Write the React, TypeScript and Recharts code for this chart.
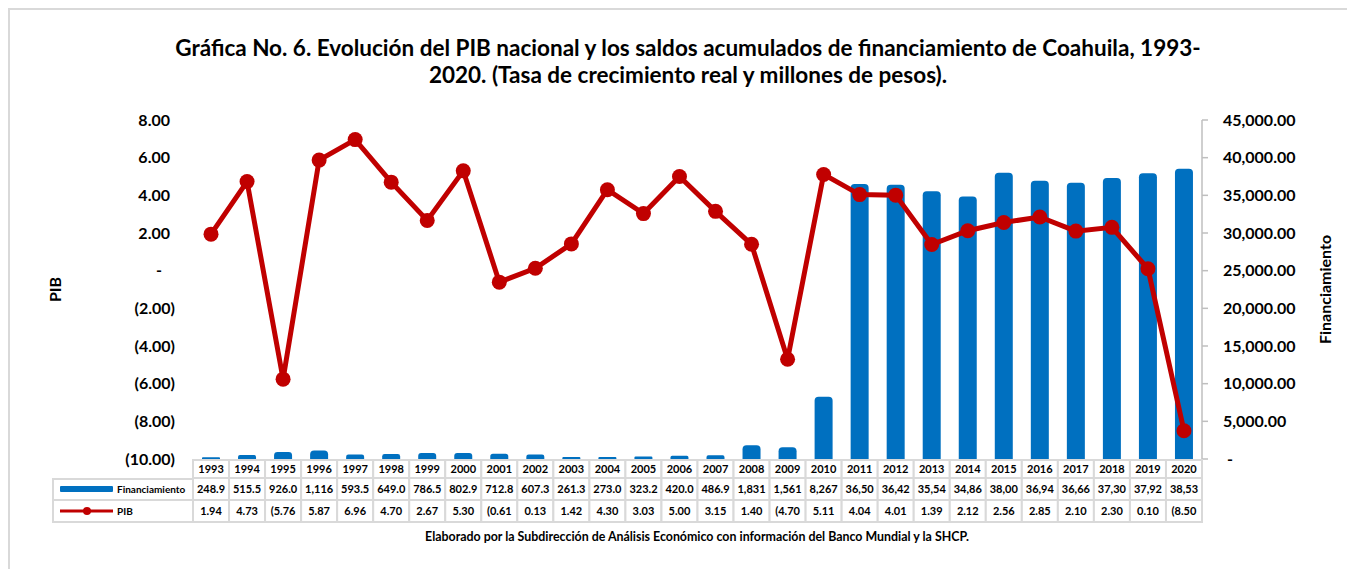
import React from 'react';
import { ComposedChart, Bar, Line, XAxis, YAxis, Legend } from 'recharts';

// ---------- data ----------
const years = [
  '1993', '1994', '1995', '1996', '1997', '1998', '1999', '2000', '2001', '2002',
  '2003', '2004', '2005', '2006', '2007', '2008', '2009', '2010', '2011', '2012',
  '2013', '2014', '2015', '2016', '2017', '2018', '2019', '2020',
];
const financiamiento = [
  248.9, 515.5, 926.0, 1116, 593.5, 649.0, 786.5, 802.9, 712.8, 607.3,
  261.3, 273.0, 323.2, 420.0, 486.9, 1831, 1561, 8267, 36500, 36420,
  35540, 34860, 38000, 36940, 36660, 37300, 37920, 38530,
];
const pib = [
  1.94, 4.73, -5.76, 5.87, 6.96, 4.70, 2.67, 5.30, -0.61, 0.13,
  1.42, 4.30, 3.03, 5.00, 3.15, 1.40, -4.70, 5.11, 4.04, 4.01,
  1.39, 2.12, 2.56, 2.85, 2.10, 2.30, 0.10, -8.50,
];
const pibTicks = [-10, -8, -6, -4, -2, 0, 2, 4, 6, 8];
const finTicks = [0, 5000, 10000, 15000, 20000, 25000, 30000, 35000, 40000, 45000];

const data = years.map((year, i) => ({ year, financiamiento: financiamiento[i], pib: pib[i] }));

// ---------- layout / style ----------
const FONT = 'Lato, "Open Sans", sans-serif';
const CHART_W = 1343;
const CHART_H = 555;
const LEFT_W = 183;
const RIGHT_W = 151;
const TOP = 110;
const X_H = 63;
const BOTTOM = 43;
const PLOT_H = CHART_H - TOP - BOTTOM - X_H;
const COL_W = (CHART_W - LEFT_W - RIGHT_W) / years.length;
const BLUE = '#0070C0';
const RED = '#C00000';
const GRID = '#D9D9D9';

const fmt = (v: number) => {
  const s = Math.abs(v).toLocaleString('en-US', { minimumFractionDigits: 2, maximumFractionDigits: 2 });
  return v < 0 ? `(${s})` : s;
};
const cellText = (v: number) => fmt(v).slice(0, 5);

const LeftTick = (props: any) => {
  const { y, payload } = props;
  const v = payload.value as number;
  const label = v === 0 ? '-' : fmt(v);
  const x = v === 0 ? LEFT_W - 31 : v < 0 ? LEFT_W - 18 : LEFT_W - 23;
  return (
    <text x={x} y={y} dy="0.35em" textAnchor="end" fontFamily={FONT} fontWeight={700} fontSize={16} fill="#000">
      {label}
    </text>
  );
};

const RightTick = (props: any) => {
  const { y, payload } = props;
  const v = payload.value as number;
  const label = v === 0 ? '-' : v.toLocaleString('en-US', { minimumFractionDigits: 2, maximumFractionDigits: 2 });
  const x = CHART_W - RIGHT_W + (v === 0 ? 25 : 21);
  return (
    <text x={x} y={y} dy="0.35em" textAnchor="start" fontFamily={FONT} fontWeight={700} fontSize={16} fill="#000">
      {label}
    </text>
  );
};

const TableTick = (props: any) => {
  const { x, y, payload } = props;
  const i = years.indexOf(String(payload.value));
  if (i < 0) return null;
  const left = x - COL_W / 2;
  const rows: [number, number, string][] = [
    [1, 19, years[i]],
    [19, 41, cellText(financiamiento[i])],
    [41, 63, cellText(pib[i])],
  ];
  return (
    <g>
      {rows.map(([t, b, label], k) => (
        <g key={k}>
          <rect x={left} y={y + t} width={COL_W} height={b - t} fill="#fff" stroke={GRID} strokeWidth={2} />
          <text x={x} y={y + (t + b) / 2} dy="0.35em" textAnchor="middle" fontFamily={FONT} fontWeight={700} fontSize={11} fill="#000">
            {label}
          </text>
        </g>
      ))}
    </g>
  );
};

const LegendBox = (props: any) => {
  const payload = (props.payload || []) as any[];
  const fin = payload.find((p) => p.dataKey === 'financiamiento') || { value: 'Financiamiento', color: BLUE };
  const pb = payload.find((p) => p.dataKey === 'pib') || { value: 'PIB', color: RED };
  return (
    <svg width={142} height={45} style={{ display: 'block', overflow: 'visible' }}>
      <rect x={1} y={1} width={140} height={43} fill="#fff" stroke={GRID} strokeWidth={2} />
      <line x1={1} x2={141} y1={22} y2={22} stroke={GRID} strokeWidth={2} />
      <rect x={8} y={8} width={53} height={6} rx={1} fill={fin.color} />
      <text x={65} y={11.5} dy="0.35em" fontFamily={FONT} fontWeight={700} fontSize={10} fill="#000">{fin.value}</text>
      <line x1={8} x2={61} y1={33} y2={33} stroke={pb.color} strokeWidth={3} />
      <circle cx={35} cy={33} r={4} fill={pb.color} />
      <text x={65} y={33} dy="0.35em" fontFamily={FONT} fontWeight={700} fontSize={10} fill="#000">{pb.value}</text>
    </svg>
  );
};

const PibLabel = () => (
  <text
    x={45}
    y={TOP + PLOT_H / 2}
    transform={`rotate(-90 45 ${TOP + PLOT_H / 2})`}
    textAnchor="middle"
    dy="0.35em"
    fontFamily={FONT}
    fontWeight={700}
    fontSize={16}
    fill="#000"
  >
    PIB
  </text>
);

const FinLabel = () => {
  const x = CHART_W - RIGHT_W + 123;
  const y = TOP + PLOT_H / 2;
  return (
    <text x={x} y={y} transform={`rotate(-90 ${x} ${y})`} textAnchor="middle" dy="0.35em" fontFamily={FONT} fontWeight={700} fontSize={16} fill="#000">
      Financiamiento
    </text>
  );
};

export default function App() {
  return (
    <div
      style={{
        position: 'relative',
        width: CHART_W + 4,
        height: 575,
        boxSizing: 'border-box',
        border: `2px solid ${GRID}`,
        background: '#fff',
        fontFamily: FONT,
      }}
    >
      <div
        style={{
          position: 'absolute',
          left: 78,
          top: 23.5,
          width: 1200,
          textAlign: 'center',
          fontFamily: FONT,
          fontWeight: 700,
          fontSize: 22.5,
          lineHeight: '27px',
          color: '#000',
          whiteSpace: 'nowrap',
        }}
      >
        Gráfica No. 6. Evolución del PIB nacional y los saldos acumulados de financiamiento de Coahuila, 1993-
        <br />
        2020. (Tasa de crecimiento real y millones de pesos).
      </div>
      <ComposedChart
        width={CHART_W}
        height={CHART_H}
        data={data}
        margin={{ top: TOP, right: 0, bottom: BOTTOM, left: 0 }}
        barCategoryGap="50%"
        style={{ fontFamily: FONT }}
      >
        <XAxis
          dataKey="year"
          height={X_H}
          axisLine={false}
          tickLine={false}
          tickSize={0}
          tickMargin={0}
          interval={0}
          tick={<TableTick />}
        />
        <YAxis
          yAxisId="left"
          orientation="left"
          width={LEFT_W}
          domain={[-10, 8]}
          ticks={pibTicks}
          interval={0}
          axisLine={false}
          tickLine={false}
          tick={<LeftTick />}
          label={{ content: <PibLabel /> }}
        />
        <YAxis
          yAxisId="right"
          orientation="right"
          width={RIGHT_W}
          domain={[0, 45000]}
          ticks={finTicks}
          interval={0}
          axisLine={{ stroke: '#BFBFBF', strokeWidth: 1.5 }}
          tickLine={{ stroke: '#BFBFBF', strokeWidth: 1.5 }}
          tickSize={6}
          tick={<RightTick />}
          label={{ content: <FinLabel /> }}
        />
        <Legend
          layout="horizontal"
          verticalAlign="middle"
          align="center"
          width={142}
          height={45}
          wrapperStyle={{ position: 'absolute', left: 42, top: 468, width: 142, height: 45 }}
          content={<LegendBox />}
        />
        <Bar
          yAxisId="right"
          dataKey="financiamiento"
          name="Financiamiento"
          fill={BLUE}
          barSize={18}
          radius={[4, 4, 0, 0]}
          isAnimationActive={false}
        />
        <Line
          yAxisId="left"
          dataKey="pib"
          name="PIB"
          stroke={RED}
          strokeWidth={5}
          dot={{ r: 7.5, fill: RED, stroke: 'none' }}
          activeDot={false}
          isAnimationActive={false}
        />
      </ComposedChart>
      <div
        style={{
          position: 'absolute',
          left: 387,
          top: 519,
          width: 600,
          textAlign: 'center',
          fontFamily: FONT,
          fontWeight: 700,
          fontSize: 12.4,
          lineHeight: '16px',
          color: '#000',
          whiteSpace: 'nowrap',
        }}
      >
        Elaborado por la Subdirección de Análisis Económico con información del Banco Mundial y la SHCP.
      </div>
    </div>
  );
}
